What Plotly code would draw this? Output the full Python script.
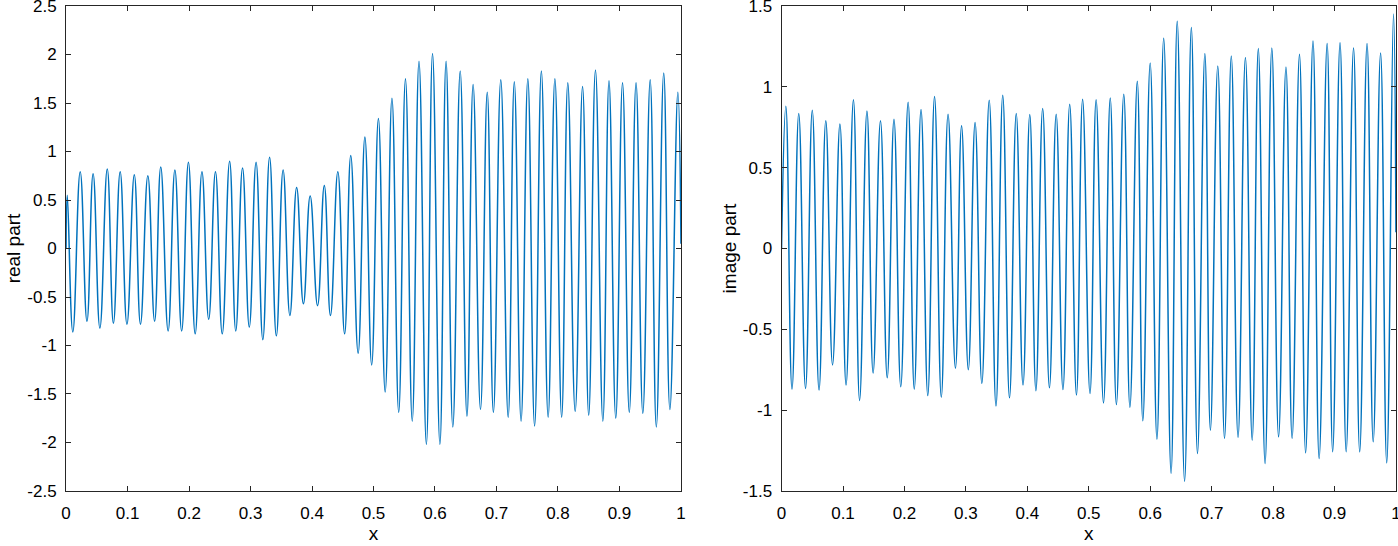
import plotly.graph_objects as go

# ---- real part: extremes (x, value) ----
real_x = [0.000, 0.002, 0.011, 0.023, 0.034, 0.044, 0.055, 0.067, 0.077, 0.088,
          0.099, 0.111, 0.121, 0.133, 0.144, 0.154, 0.166, 0.177, 0.188, 0.199,
          0.210, 0.221, 0.232, 0.243, 0.254, 0.266, 0.276, 0.287, 0.298, 0.309,
          0.320, 0.331, 0.342, 0.353, 0.364, 0.375, 0.386, 0.397, 0.409, 0.420,
          0.430, 0.442, 0.453, 0.463, 0.475, 0.486, 0.497, 0.508, 0.519, 0.530,
          0.541, 0.552, 0.563, 0.574, 0.586, 0.596, 0.608, 0.618, 0.629, 0.641,
          0.652, 0.662, 0.674, 0.685, 0.695, 0.707, 0.719, 0.729, 0.740, 0.751,
          0.762, 0.773, 0.784, 0.795, 0.806, 0.816, 0.828, 0.840, 0.850, 0.861,
          0.873, 0.883, 0.894, 0.905, 0.916, 0.927, 0.938, 0.950, 0.960, 0.972,
          0.982, 0.995, 1.000]
real_y = [0.00, 0.55, -0.86, 0.79, -0.75, 0.77, -0.82, 0.82, -0.77, 0.79,
          -0.78, 0.76, -0.78, 0.75, -0.75, 0.84, -0.85, 0.81, -0.85, 0.89,
          -0.88, 0.79, -0.73, 0.79, -0.88, 0.90, -0.85, 0.83, -0.81, 0.89,
          -0.94, 0.94, -0.90, 0.81, -0.69, 0.63, -0.57, 0.54, -0.59, 0.65,
          -0.69, 0.79, -0.88, 0.96, -1.08, 1.15, -1.20, 1.34, -1.48, 1.55,
          -1.69, 1.75, -1.78, 1.93, -2.02, 2.01, -2.02, 1.93, -1.84, 1.83,
          -1.73, 1.69, -1.66, 1.61, -1.69, 1.74, -1.74, 1.72, -1.78, 1.75,
          -1.83, 1.83, -1.74, 1.75, -1.74, 1.71, -1.68, 1.67, -1.72, 1.84,
          -1.78, 1.73, -1.75, 1.71, -1.69, 1.71, -1.70, 1.74, -1.84, 1.81,
          -1.66, 1.61, 0.05]

# ---- image part: extremes (x, value) ----
imag_x = [0.000, 0.007, 0.017, 0.028, 0.039, 0.050, 0.061, 0.072, 0.083, 0.095,
          0.105, 0.117, 0.127, 0.139, 0.149, 0.161, 0.172, 0.183, 0.194, 0.206,
          0.216, 0.227, 0.238, 0.249, 0.260, 0.271, 0.283, 0.293, 0.304, 0.315,
          0.326, 0.338, 0.349, 0.360, 0.371, 0.382, 0.393, 0.404, 0.414, 0.425,
          0.436, 0.447, 0.458, 0.469, 0.480, 0.490, 0.502, 0.512, 0.524, 0.535,
          0.545, 0.557, 0.567, 0.579, 0.588, 0.600, 0.611, 0.622, 0.634, 0.644,
          0.656, 0.667, 0.677, 0.689, 0.698, 0.710, 0.721, 0.732, 0.743, 0.755,
          0.766, 0.776, 0.787, 0.798, 0.809, 0.821, 0.831, 0.843, 0.853, 0.865,
          0.875, 0.888, 0.897, 0.909, 0.919, 0.931, 0.941, 0.953, 0.963, 0.975,
          0.985, 0.996, 1.000]
imag_y = [0.00, 0.88, -0.87, 0.835, -0.866, 0.855, -0.876, 0.79, -0.72, 0.77,
          -0.845, 0.92, -0.94, 0.85, -0.77, 0.79, -0.80, 0.80, -0.855, 0.905,
          -0.87, 0.86, -0.91, 0.94, -0.92, 0.83, -0.74, 0.76, -0.75, 0.78,
          -0.835, 0.917, -0.975, 0.948, -0.924, 0.835, -0.845, 0.829, -0.88, 0.866,
          -0.862, 0.83, -0.872, 0.892, -0.907, 0.923, -0.897, 0.92, -0.955, 0.931,
          -0.965, 0.954, -0.983, 1.035, -1.066, 1.148, -1.18, 1.30, -1.39, 1.406,
          -1.44, 1.367, -1.268, 1.206, -1.124, 1.129, -1.175, 1.191, -1.169, 1.181,
          -1.186, 1.237, -1.33, 1.241, -1.165, 1.123, -1.175, 1.202, -1.264, 1.284,
          -1.299, 1.268, -1.258, 1.272, -1.258, 1.241, -1.258, 1.268, -1.196, 1.21,
          -1.326, 1.45, 0.10]

x_ticks = [0, 0.1, 0.2, 0.3, 0.4, 0.5, 0.6, 0.7, 0.8, 0.9, 1]
x_tick_labels = ["0", "0.1", "0.2", "0.3", "0.4", "0.5", "0.6", "0.7", "0.8", "0.9", "1"]
real_ticks = [-2.5, -2, -1.5, -1, -0.5, 0, 0.5, 1, 1.5, 2, 2.5]
real_tick_labels = ["-2.5", "-2", "-1.5", "-1", "-0.5", "0", "0.5", "1", "1.5", "2", "2.5"]
imag_ticks = [-1.5, -1, -0.5, 0, 0.5, 1, 1.5]
imag_tick_labels = ["-1.5", "-1", "-0.5", "0", "0.5", "1", "1.5"]

LINE = "#0072BD"
AX = "#262626"
FONT = "Liberation Sans, Arial, Helvetica, sans-serif"
EPS = 1e-4

fig = go.Figure()
fig.add_trace(go.Scatter(x=real_x, y=real_y, mode="lines",
                         line=dict(color=LINE, width=1.5, shape="spline", smoothing=1.3),
                         xaxis="x", yaxis="y", showlegend=False))
fig.add_trace(go.Scatter(x=imag_x, y=imag_y, mode="lines",
                         line=dict(color=LINE, width=1.5, shape="spline", smoothing=1.3),
                         xaxis="x2", yaxis="y2", showlegend=False))

W, H = 1398, 546
ml, mr, mt, mb = 66, 2, 6, 55
pw = W - ml - mr
left_end = 615 / pw
right_start = (781.5 - ml) / pw

common_axis = dict(showline=True, linecolor=AX, linewidth=1, mirror="ticks",
                   ticks="inside", ticklen=5, tickcolor=AX, tickwidth=1,
                   showgrid=False, zeroline=False, automargin=False,
                   ticklabeloverflow="allow",
                   tickfont=dict(family=FONT, size=17, color="#000000"),
                   title_font=dict(family=FONT, size=19, color="#000000"))

fig.update_layout(
    width=W, height=H,
    margin=dict(l=ml, r=mr, t=mt, b=mb),
    paper_bgcolor="white", plot_bgcolor="white",
    xaxis=dict(domain=[0, left_end], range=[-EPS, 1 + EPS], tickvals=x_ticks, ticktext=x_tick_labels,
               anchor="y", title=dict(text="x", standoff=2), ticklabelstandoff=7, **common_axis),
    yaxis=dict(domain=[0, 1], range=[-2.5 - EPS, 2.5 + EPS], tickvals=real_ticks, ticktext=real_tick_labels,
               anchor="x", title=dict(text="real part", standoff=1), ticklabelstandoff=5, **common_axis),
    xaxis2=dict(domain=[right_start, 1], range=[-EPS, 1 + EPS], tickvals=x_ticks, ticktext=x_tick_labels,
                anchor="y2", title=dict(text="x", standoff=2), ticklabelstandoff=7, **common_axis),
    yaxis2=dict(domain=[0, 1], range=[-1.5 - EPS, 1.5 + EPS], tickvals=imag_ticks, ticktext=imag_tick_labels,
                anchor="x2", title=dict(text="image part", standoff=1), ticklabelstandoff=5, **common_axis),
)

fig.write_html("out.html", config={"displayModeBar": False},
               post_script="document.body.style.margin='0';document.body.style.overflow='hidden';")
